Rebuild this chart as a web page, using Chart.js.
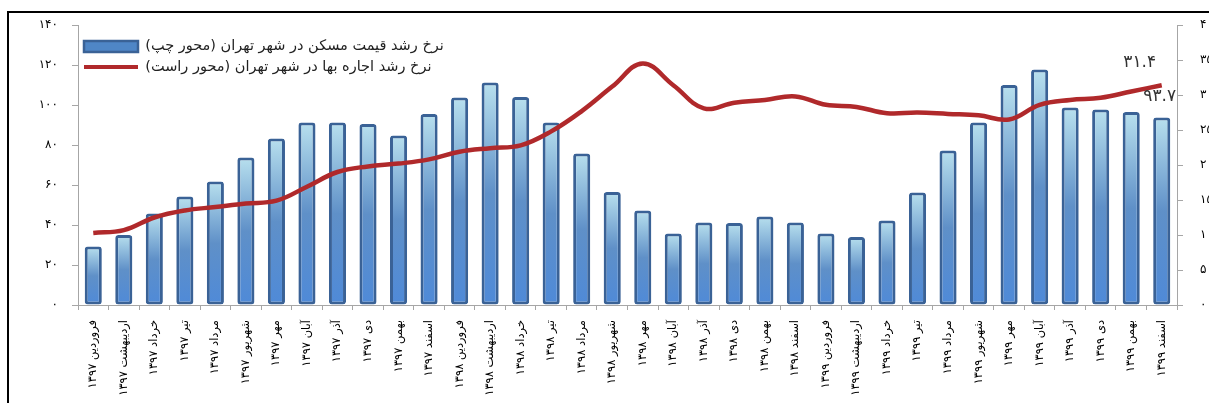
<!DOCTYPE html>
<html lang="fa">
<head>
<meta charset="utf-8">
<title>نرخ رشد قیمت مسکن و اجاره بها در شهر تهران</title>
<script src="https://cdn.jsdelivr.net/npm/chart.js@4/dist/chart.umd.min.js"></script>
<style>
  html, body { margin: 0; padding: 0; background: #fff; overflow: hidden; }
  #wrap { position: relative; width: 1225px; height: 403px; }
  #frame {
    position: absolute; left: 7px; top: 11px; width: 1300px; height: 500px;
    border-left: 2px solid #000; border-top: 2px solid #000; pointer-events: none;
  }
</style>
</head>
<body>
<div id="wrap">
  <canvas id="chart" width="1225" height="403"></canvas>
  <div id="frame"></div>
</div>
<script>
/* نرخ رشد قیمت مسکن (محور چپ) و اجاره بها (محور راست) — تهران ۱۳۹۷ تا ۱۳۹۹ */

const months = ['فروردین', 'اردیبهشت', 'خرداد', 'تیر', 'مرداد', 'شهریور',
                'مهر', 'آبان', 'آذر', 'دی', 'بهمن', 'اسفند'];
const years = ['۱۳۹۷', '۱۳۹۸', '۱۳۹۹'];

// رشد قیمت مسکن، درصد (محور چپ)
const housePriceGrowth = [29.2, 35, 45.8, 54.2, 61.7, 73.7, 83.2, 91.3, 91.3, 90.5, 84.8, 95.5,
                          103.7, 111.3, 104, 91.3, 75.7, 56.5, 47.3, 35.7, 41.3, 41, 44.3, 41.3,
                          35.7, 34, 42.2, 56.3, 77.2, 91.3, 110, 117.8, 98.7, 97.8, 96.5, 93.7];

// رشد اجاره بها، درصد (محور راست)
const rentGrowth = [10.3, 10.7, 12.5, 13.5, 14.0, 14.5, 14.9, 16.9, 19.0, 19.8, 20.2, 20.8,
                    21.9, 22.4, 22.8, 24.8, 27.7, 31.2, 34.5, 31.4, 28.1, 28.9, 29.3, 29.8,
                    28.6, 28.3, 27.4, 27.5, 27.3, 27.1, 26.5, 28.6, 29.3, 29.6, 30.5, 31.4];

const leftTicks = [0, 20, 40, 60, 80, 100, 120, 140];
const rightTicks = [0, 5, 10, 15, 20, 25, 30, 35, 40];

const seriesNames = ['نرخ رشد قیمت مسکن در شهر تهران (محور چپ)',
                     'نرخ رشد اجاره بها در شهر تهران (محور راست)'];

const labels = years.flatMap(y => months.map(m => m + ' ' + y));

const FA_DIGITS = '۰۱۲۳۴۵۶۷۸۹';
function toFa(v) {
  return String(v).replace(/[0-9]/g, d => FA_DIGITS[+d]);
}

const FONT = '"DejaVu Sans", sans-serif';
const BAR_EDGE = '#3a6296';
const LINE_RED = '#b0292b';
const AXIS_GREY = '#a6a6a6';

function barGradient(context) {
  const chart = context.chart;
  const { ctx, chartArea, scales } = chart;
  if (!chartArea || context.raw == null) return '#5b8cc8';
  const top = scales.y.getPixelForValue(context.raw);
  const bottom = scales.y.getPixelForValue(0);
  const g = ctx.createLinearGradient(0, top, 0, bottom);
  g.addColorStop(0, '#b8e0ee');
  g.addColorStop(0.5, '#5f90c8');
  g.addColorStop(1, '#4f8ad8');
  return g;
}

// برچسب مقدار آخرین ماه روی میله و خط
const endLabels = {
  id: 'endLabels',
  afterDatasetsDraw(chart) {
    const { ctx } = chart;
    const last = housePriceGrowth.length - 1;
    const bar = chart.getDatasetMeta(0).data[last];
    const pt = chart.getDatasetMeta(1).data[last];
    ctx.save();
    ctx.font = '17px ' + FONT;
    ctx.fillStyle = '#333';
    ctx.textAlign = 'center';
    ctx.textBaseline = 'middle';
    ctx.fillText(toFa(rentGrowth[last].toFixed(1)), pt.x - 22, pt.y - 23);
    ctx.fillText(toFa(housePriceGrowth[last].toFixed(1)), bar.x - 2, bar.y - 21);
    ctx.restore();
  }
};

new Chart(document.getElementById('chart'), {
  data: {
    labels,
    datasets: [
      {
        type: 'bar',
        label: seriesNames[0],
        data: housePriceGrowth,
        yAxisID: 'y',
        backgroundColor: barGradient,
        borderColor: BAR_EDGE,
        borderWidth: 3,
        borderRadius: 3,
        borderSkipped: false,
        categoryPercentage: 0.8,
        barPercentage: 0.7,
        order: 2,
      },
      {
        type: 'line',
        label: seriesNames[1],
        data: rentGrowth,
        yAxisID: 'y2',
        borderColor: LINE_RED,
        borderWidth: 4.5,
        tension: 0.4,
        pointRadius: 0,
        fill: false,
        order: 1,
      },
    ],
  },
  options: {
    responsive: false,
    animation: false,
    layout: { padding: { top: 25, left: 0, right: 0, bottom: 0 } },
    plugins: {
      tooltip: { enabled: false },
      legend: {
        position: 'chartArea',
        align: 'start',
        textDirection: 'rtl',
        title: { display: true, text: '', font: { size: 1 }, padding: { top: 32, bottom: 0 } },
        labels: {
          usePointStyle: true,
          pointStyleWidth: 54,
          boxHeight: 11,
          padding: 6,
          color: '#222',
          font: { family: FONT, size: 14.5 },
          generateLabels: chart => chart.data.datasets.map((ds, i) => ({
            text: ds.label,
            datasetIndex: i,
            fillStyle: i === 0 ? '#4f86c6' : LINE_RED,
            strokeStyle: i === 0 ? BAR_EDGE : LINE_RED,
            lineWidth: i === 0 ? 2.5 : 4,
            pointStyle: i === 0 ? 'rect' : 'line',
            fontColor: '#222',
            hidden: false,
          })),
        },
      },
    },
    scales: {
      x: {
        offset: true,
        grid: { offset: true, drawOnChartArea: false, drawTicks: true, tickLength: 5, color: AXIS_GREY },
        border: { color: AXIS_GREY, width: 1 },
        ticks: {
          autoSkip: false, minRotation: 90, maxRotation: 90, padding: 10,
          color: '#000', font: { family: FONT, size: 11.5 },
        },
        afterFit: s => { s.height = 98; },
      },
      y: {
        position: 'left',
        min: 0, max: 140,
        afterBuildTicks: s => { s.ticks = leftTicks.map(v => ({ value: v })); },
        grid: { drawOnChartArea: false, drawTicks: true, tickLength: 6, color: AXIS_GREY },
        border: { color: AXIS_GREY, width: 1 },
        ticks: { padding: 14, color: '#000', font: { family: FONT, size: 12 }, callback: v => toFa(v) },
        afterFit: s => { s.width = 78; },
      },
      y2: {
        position: 'right',
        min: 0, max: 40,
        afterBuildTicks: s => { s.ticks = rightTicks.map(v => ({ value: v })); },
        grid: { drawOnChartArea: false, drawTicks: true, tickLength: 6, color: AXIS_GREY },
        border: { color: AXIS_GREY, width: 1 },
        ticks: { padding: 17, color: '#000', font: { family: FONT, size: 12 }, callback: v => toFa(v) },
        afterFit: s => { s.width = 48; },
      },
    },
  },
  plugins: [endLabels],
});
</script>
</body>
</html>
